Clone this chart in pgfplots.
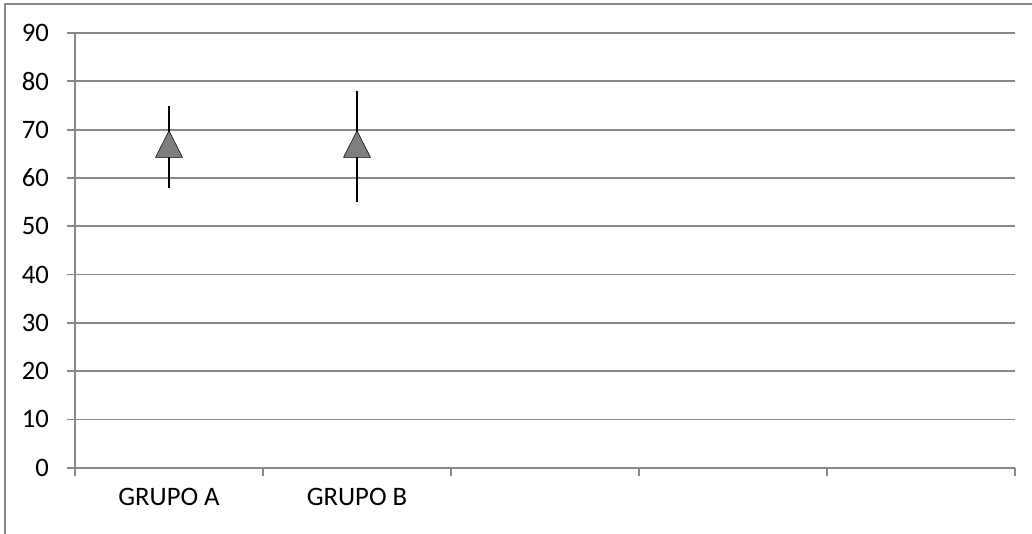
\documentclass[border=0pt]{standalone}
\usepackage{pgfplots}
\pgfplotsset{compat=1.18}
\usepackage{fontspec}
\setmainfont{Carlito}
\definecolor{gridgray}{HTML}{888888}
\definecolor{markgray}{HTML}{7F7F7F}
\begin{document}
\begin{tikzpicture}
\useasboundingbox (0,0) rectangle (774pt,400.5pt);
\draw[gridgray, line width=1.5pt] (3.75pt,0) -- (3.75pt,397.5pt) -- (774pt,397.5pt);
\begin{axis}[
  at={(56.25pt,49.7pt)}, anchor=south west,
  scale only axis, width=705pt, height=326pt,
  xmin=0, xmax=5, ymin=0, ymax=90,
  axis lines*=left,
  axis line style={gridgray, line width=1.3pt},
  xtick={0,1,2,3,4,5}, xticklabels={},
  extra x ticks={0.5,1.5},
  extra x tick labels={GRUPO A, GRUPO B},
  extra x tick style={major tick length=0pt, grid=none,
    xticklabel style={yshift=-12pt}},
  ytick={0,10,...,90},
  ymajorgrids,
  grid style={gridgray, line width=1.3pt},
  tick style={gridgray, line width=1.3pt},
  tick align=outside, major tick length=6pt,
  tick label style={font=\fontsize{20}{24}\selectfont},
  yticklabel style={xshift=-10pt},
  /pgf/number format/assume math mode=true,
  clip=false,
]
\addplot[only marks, mark=triangle*, mark size=11.7pt,
  mark options={fill=markgray, draw=none, yshift=-3.3pt, yscale=1.14},
  error bars/.cd, y dir=both, y explicit,
  error bar style={black, line width=1.3pt}, error mark=none]
  coordinates {(0.5,67) += (0,8) -= (0,9) (1.5,67) += (0,11) -= (0,12)};
\end{axis}
\end{tikzpicture}
\end{document}
